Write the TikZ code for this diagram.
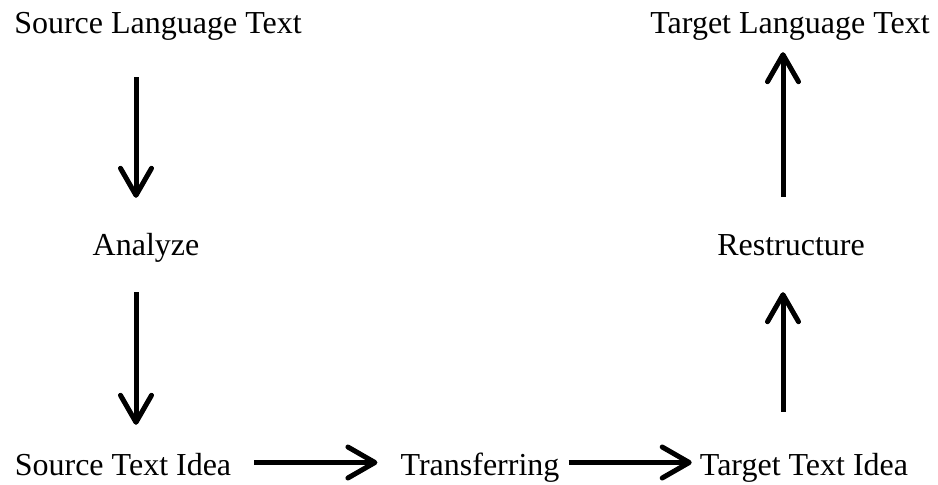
\documentclass[tikz,border=0pt]{standalone}
\usepackage{fontspec}
\setmainfont{Liberation Serif}
\usetikzlibrary{arrows.meta}

\begin{document}
\begin{tikzpicture}[x=1pt, y=-1pt,
	phase/.style = {anchor=base, inner sep=0pt, text height=22pt, text depth=7pt, font=\fontsize{32}{37}\selectfont},
	arr/.style = {line width=5pt, -{Straight Barb[length=27pt, width=31pt, round]}}]
	\useasboundingbox (0,0) rectangle (938,485);
	\coordinate (lx) at (136,0);
	\coordinate (rx) at (783,0);
	\node[phase] (src) at (158, 33) {Source Language Text};
	\node[phase] (tlt) at (790, 33) {Target Language Text};
	\node[phase] (ana) at (146, 255) {Analyze};
	\node[phase] (res) at (791, 255) {Restructure};
	\node[phase] (sti) at (123, 475) {Source Text Idea};
	\node[phase] (tra) at (480, 475) {Transferring};
	\node[phase] (tti) at (804, 475) {Target Text Idea};
	\draw[arr, shorten <=37pt, shorten >=35pt] (src.south -| lx) -- (ana.north -| lx);
	\draw[arr, shorten <=30pt, shorten >=28pt] (ana.south -| lx) -- (sti.north -| lx);
	\draw[arr, shorten <=23pt, shorten >=23pt] ([yshift=5pt]sti.east) -- ([yshift=5pt]tra.west);
	\draw[arr, shorten <=9pt, shorten >=8pt] ([yshift=5pt]tra.east) -- ([yshift=5pt]tti.west);
	\draw[arr, shorten <=41pt, shorten >=30pt] (tti.north -| rx) -- (res.south -| rx);
	\draw[arr, shorten <=36pt, shorten >=12pt] (res.north -| rx) -- (tlt.south -| rx);
\end{tikzpicture}
\end{document}
